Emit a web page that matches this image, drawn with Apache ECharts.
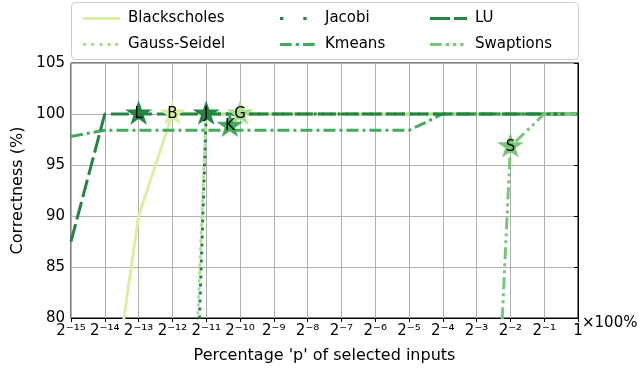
<!DOCTYPE html>
<html>
<head>
<meta charset="utf-8">
<script src="https://cdn.jsdelivr.net/npm/echarts@6/dist/echarts.min.js"></script>
<style>html,body{margin:0;padding:0;background:#fff}#c{width:639px;height:371px}</style>
</head>
<body>
<div id="c"></div>
<script>
// x values are log2 of the percentage p (x100%)
const xTicks = [-15,-14,-13,-12,-11,-10,-9,-8,-7,-6,-5,-4,-3,-2,-1,0];
const blackscholesX = [-14,-13,-12,-11,-10,-9,-8,-7,-6,-5,-4,-3,-2,-1,0];
const blackscholesY = [67,90,100,100,100,100,100,100,100,100,100,100,100,100,100];
const gaussX = [-12,-11,-10,-9,-8,-7,-6,-5,-4,-3,-2,-1,0];
const gaussY = [20,100,100,100,100,100,100,100,100,100,100,100,100];
const jacobiX = [-12,-11,-10,-9,-8,-7,-6,-5,-4,-3,-2,-1,0];
const jacobiY = [0,100,100,100,100,100,100,100,100,100,100,100,100];
const kmeansX = [-15,-14,-13,-12,-11,-10,-9,-8,-7,-6,-5,-4,-3,-2,-1,0];
const kmeansY = [97.8,98.4,98.4,98.4,98.4,98.4,98.4,98.4,98.4,98.4,98.4,100,100,100,100,100];
const luX = [-15,-14,-13,-12,-11,-10,-9,-8,-7,-6,-5,-4,-3,-2,-1,0];
const luY = [87.5,100,100,100,100,100,100,100,100,100,100,100,100,100,100,100];
const swaptionsX = [-3,-2,-1,0];
const swaptionsY = [27,96.8,100,100];
// star markers
const markerNames = ['Blackscholes','Gauss-Seidel','Jacobi','Kmeans','LU','Swaptions'];
const markerX = [-12,-10,-11,-10.3,-13,-2];
const markerY = [100,100,100,98.8,100,96.8];
const markerText = ['B','G','J','K','L','S'];

const colors = {
  'Blackscholes':'#d9f0a3','Gauss-Seidel':'#addd8e','Jacobi':'#238443',
  'Kmeans':'#41ab5d','LU':'#238443','Swaptions':'#78c679'
};
const dashes = {
  'Blackscholes':'solid','Gauss-Seidel':[3.3,4.7],'Jacobi':[3,5],
  'Kmeans':[12,4,3,4],'LU':[18,5],'Swaptions':[12,4,3,4,3,4]
};
// legend handle glyphs (37 x 3 box)
const tiny = ' M36.9,0h0.1v0.1h-0.1z';
const legendIcons = {
  'Blackscholes':'path://M0,0H37V3H0Z',
  'Gauss-Seidel':'path://M0,0h3.3v3h-3.3z M8,0h3.3v3h-3.3z M16.5,0h3.3v3h-3.3z M24.5,0h3.3v3h-3.3z M32,0h3.3v3h-3.3z' + tiny,
  'Jacobi':'path://M0,0h3.3v3h-3.3z M23.3,0h3.3v3h-3.3z' + tiny,
  'Kmeans':'path://M0,0h11.7v3h-11.7z M15.7,0h3.3v3h-3.3z M23,0h11.7v3h-11.7z' + tiny,
  'LU':'path://M0,0h20v3h-20z M24,0h13v3h-13z',
  'Swaptions':'path://M0,0h11.7v3h-11.7z M15.7,0h3.3v3h-3.3z M23,0h3.3v3h-3.3z M30.3,0h3.3v3h-3.3z' + tiny
};
const seriesData = {
  'Blackscholes':[blackscholesX,blackscholesY],'Gauss-Seidel':[gaussX,gaussY],
  'Jacobi':[jacobiX,jacobiY],'Kmeans':[kmeansX,kmeansY],'LU':[luX,luY],
  'Swaptions':[swaptionsX,swaptionsY]
};
const sup = {'-':'\u207B','0':'\u2070','1':'\u00B9','2':'\u00B2','3':'\u00B3','4':'\u2074','5':'\u2075','6':'\u2076','7':'\u2077','8':'\u2078','9':'\u2079'};
function fmtX(v){ if (v===0) return '1'; return '2' + String(v).split('').map(c=>sup[c]).join(''); }

const star = 'path://M0,-10 L2.245,-3.09 9.511,-3.09 3.633,1.18 5.878,8.09 0,3.82 -5.878,8.09 -3.633,1.18 -9.511,-3.09 -2.245,-3.09Z';

const series = [];
markerNames.forEach(n=>{
  const [xs, ys] = seriesData[n];
  series.push({
    name:n, type:'line', symbol:'none', clip:true,
    data: xs.map((x,i)=>[x, ys[i]]),
    lineStyle:{color:colors[n], width:3, type:dashes[n], cap:'butt'},
    itemStyle:{color:colors[n]}, z:2
  });
});
markerNames.forEach((n,i)=>{
  series.push({
    name:'m_'+n, type:'scatter', symbol:star, symbolSize:[27,26], symbolKeepAspect:true,
    symbolOffset:[0,-1.5],
    data:[[markerX[i], markerY[i]]],
    itemStyle:{color:colors[n], opacity:1},
    label:{show:true, position:'inside', formatter:markerText[i], color:'#000', fontSize:15, fontFamily:'DejaVu Sans', offset:[0,1.5]},
    z:5, silent:true
  });
});

const legendBase = {
  orient:'vertical', itemWidth:37, itemHeight:3, itemGap:11, top:6,
  textStyle:{fontSize:15, color:'#000', fontFamily:'DejaVu Sans', padding:[0,0,0,3]},
  selectedMode:false, z:10
};
const legendItems = names => names.map(n=>({name:n, icon:legendIcons[n]}));

const chart = echarts.init(document.getElementById('c'), null, {renderer:'canvas'});
chart.setOption({
  animation:false,
  backgroundColor:'#fff',
  grid:{left:71, right:61, top:63, bottom:53, show:true, borderColor:'#000', borderWidth:1, backgroundColor:'transparent'},
  xAxis:{
    type:'value', min:-15, max:0, interval:1,
    name:"Percentage 'p' of selected inputs", nameLocation:'middle', nameGap:30,
    nameTextStyle:{fontSize:16, color:'#000', fontFamily:'DejaVu Sans'},
    axisLine:{show:true, onZero:false, lineStyle:{color:'#000', width:1}},
    axisTick:{show:true, length:4, lineStyle:{color:'#000'}},
    axisLabel:{formatter:fmtX, fontSize:15, color:'#000', fontFamily:'DejaVu Sans', margin:6, hideOverlap:false},
    splitLine:{show:true, lineStyle:{color:'#b0b0b0', width:1}}
  },
  yAxis:{
    type:'value', min:80, max:105, interval:5,
    name:'Correctness (%)', nameLocation:'middle', nameGap:40,
    nameTextStyle:{fontSize:16, color:'#000', fontFamily:'DejaVu Sans'},
    axisLine:{show:true, lineStyle:{color:'#000', width:1}},
    axisTick:{show:true, length:4, lineStyle:{color:'#000'}},
    axisLabel:{fontSize:15, color:'#000', fontFamily:'DejaVu Sans', margin:6},
    splitLine:{show:true, lineStyle:{color:'#b0b0b0', width:1}}
  },
  legend:[
    Object.assign({}, legendBase, {left:78, data:legendItems(['Blackscholes','Gauss-Seidel'])}),
    Object.assign({}, legendBase, {left:275, data:legendItems(['Jacobi','Kmeans'])}),
    Object.assign({}, legendBase, {left:425, data:legendItems(['LU','Swaptions'])})
  ],
  graphic:[
    {type:'rect', left:71, top:2, shape:{width:507, height:57, r:4}, style:{fill:'rgba(255,255,255,0.85)', stroke:'#cccccc', lineWidth:1}, z:9},
    {type:'text', left:582, top:316, style:{text:'\u00D7100%', fontSize:15, fill:'#000', fontFamily:'DejaVu Sans'}, z:10}
  ],
  series:series
});
</script>
</body>
</html>
